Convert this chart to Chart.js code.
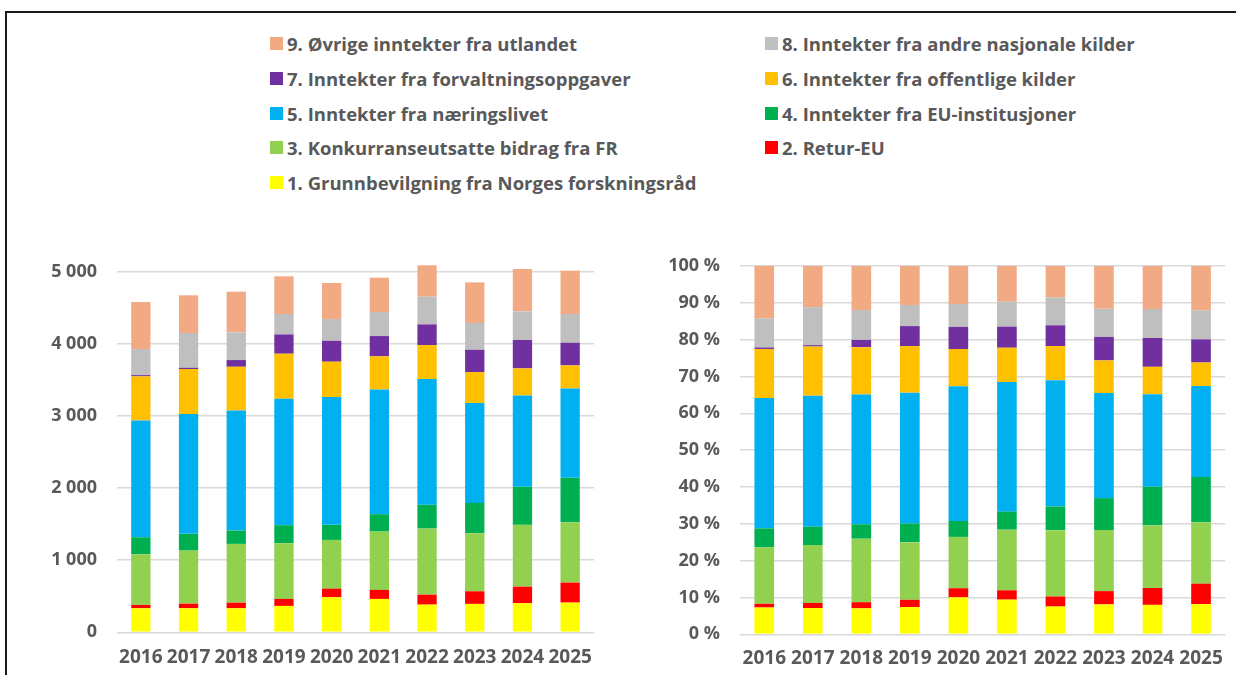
<!DOCTYPE html>
<html>
<head>
<meta charset="utf-8">
<script src="https://cdn.jsdelivr.net/npm/chart.js@4/dist/chart.umd.min.js"></script>
<style>
  html, body { margin:0; padding:0; background:#fff; width:1236px; height:675px; overflow:hidden; position:relative; }
  #frame { position:absolute; left:5px; top:11px; width:1300px; height:700px; border-top:2px solid #1a1a1a; border-left:2px solid #1a1a1a; }
  .cw { position:absolute; }
  #legend { position:absolute; left:0; top:0; }
  .li { position:absolute; font-family:"Open Sans", "Liberation Sans", Arial, sans-serif; font-weight:bold; font-size:18.5px; color:#595959; white-space:nowrap; line-height:20px; }
  .li span.m { position:absolute; left:-17px; top:3px; width:13px; height:13px; }
</style>
</head>
<body>
<div id="frame"></div>
<div id="legend"></div>
<div class="cw" style="left:0px; top:240px; width:610px; height:435px;"><canvas id="c1" width="610" height="435"></canvas></div>
<div class="cw" style="left:610px; top:235px; width:626px; height:440px;"><canvas id="c2" width="626" height="440"></canvas></div>
<script>
// ---- data ----
const years = ['2016','2017','2018','2019','2020','2021','2022','2023','2024','2025'];
const seriesNames = [
  '1. Grunnbevilgning fra Norges forskningsråd',
  '2. Retur-EU',
  '3. Konkurranseutsatte bidrag fra FR',
  '4. Inntekter fra EU-institusjoner',
  '5. Inntekter fra næringslivet',
  '6. Inntekter fra offentlige kilder',
  '7. Inntekter fra forvaltningsoppgaver',
  '8. Inntekter fra andre nasjonale kilder',
  '9. Øvrige inntekter fra utlandet'
];
const s1 = [333,333,333,366,486,463,384,394,403,412];
const s2 = [47,65,79,97,120,125,139,175,231,278];
const s3 = [703,736,815,773,676,810,917,806,857,838];
const s4 = [236,232,185,250,209,241,329,421,528,616];
const s5 = [1621,1662,1667,1755,1773,1731,1745,1385,1268,1240];
const s6 = [611,625,606,625,491,459,472,430,375,320];
const s7 = [18,18,93,268,291,282,287,310,394,315];
const s8 = [362,482,384,283,301,333,384,371,398,398];
const s9 = [652,523,565,523,500,477,436,564,588,602];
const leftTicks = [0,1000,2000,3000,4000,5000];
const rightTicks = [0,10,20,30,40,50,60,70,80,90,100];

const colors = ['#FFFF00','#FF0000','#92D050','#00B050','#00B0F0','#FFC000','#7030A0','#BFBFBF','#F2AA84'];
const allSeries = [s1,s2,s3,s4,s5,s6,s7,s8,s9];

// ---- legend (2 columns, reverse order) ----
const legend = document.getElementById('legend');
const order = [8,7,6,5,4,3,2,1,0];
order.forEach((si, i) => {
  const row = Math.floor(i/2), col = i%2;
  const d = document.createElement('div');
  d.className = 'li';
  d.style.left = (col === 0 ? 287 : 782) + 'px';
  d.style.top = (34 + row*34.8) + 'px';
  d.innerHTML = '<span class="m" style="background:' + colors[si] + '"></span>' + seriesNames[si];
  legend.appendChild(d);
});

// ---- charts ----
Chart.defaults.font.family = '"Open Sans", "Liberation Sans", Arial, sans-serif';
Chart.defaults.font.weight = 'bold';
Chart.defaults.color = '#595959';

const totals = years.map((y, i) => allSeries.reduce((a, s) => a + s[i], 0));

function mkDatasets(pct) {
  return allSeries.map((s, k) => ({
    label: seriesNames[k],
    data: pct ? s.map((v, i) => v / totals[i] * 100) : s,
    backgroundColor: colors[k],
    borderWidth: 0,
    barPercentage: 0.405,
    categoryPercentage: 1.0,
    clip: false
  }));
}
const fmt = v => String(v).replace(/\B(?=(\d{3})+(?!\d))/g, '\u00a0');

function baseOpts(pct) {
  return {
    responsive: false,
    animation: false,
    events: [],
    layout: { padding: pct ? { left: 0, right: 5, top: 31, bottom: 0 } : { left: 0, right: 16, top: 32, bottom: 0 } },
    plugins: { legend: { display: false }, tooltip: { enabled: false } },
    scales: {
      x: {
        stacked: true,
        grid: { display: false, drawTicks: false },
        border: { display: false },
        afterFit: sc => { sc.height = pct ? 40.7 : 42.7; },
        ticks: { font: { size: 19, weight: 'bold' }, padding: pct ? 13 : 14, maxRotation: 0, autoSkip: false }
      },
      y: {
        stacked: true,
        min: 0,
        max: pct ? 100 : 5000,
        afterBuildTicks: sc => { sc.ticks = (pct ? rightTicks : leftTicks).map(v => ({ value: v })); },
        afterFit: sc => { sc.width = pct ? 130 : 117; },
        grid: { color: '#d9d9d9', lineWidth: 1.5, drawTicks: false },
        border: { display: false },
        ticks: { font: { size: 18, weight: 'bold' }, padding: 20, callback: v => pct ? v + ' %' : fmt(v) }
      }
    }
  };
}

new Chart(document.getElementById('c1'), { type: 'bar', data: { labels: years, datasets: mkDatasets(false) }, options: baseOpts(false) });
new Chart(document.getElementById('c2'), { type: 'bar', data: { labels: years, datasets: mkDatasets(true) }, options: baseOpts(true) });
</script>
</body>
</html>
